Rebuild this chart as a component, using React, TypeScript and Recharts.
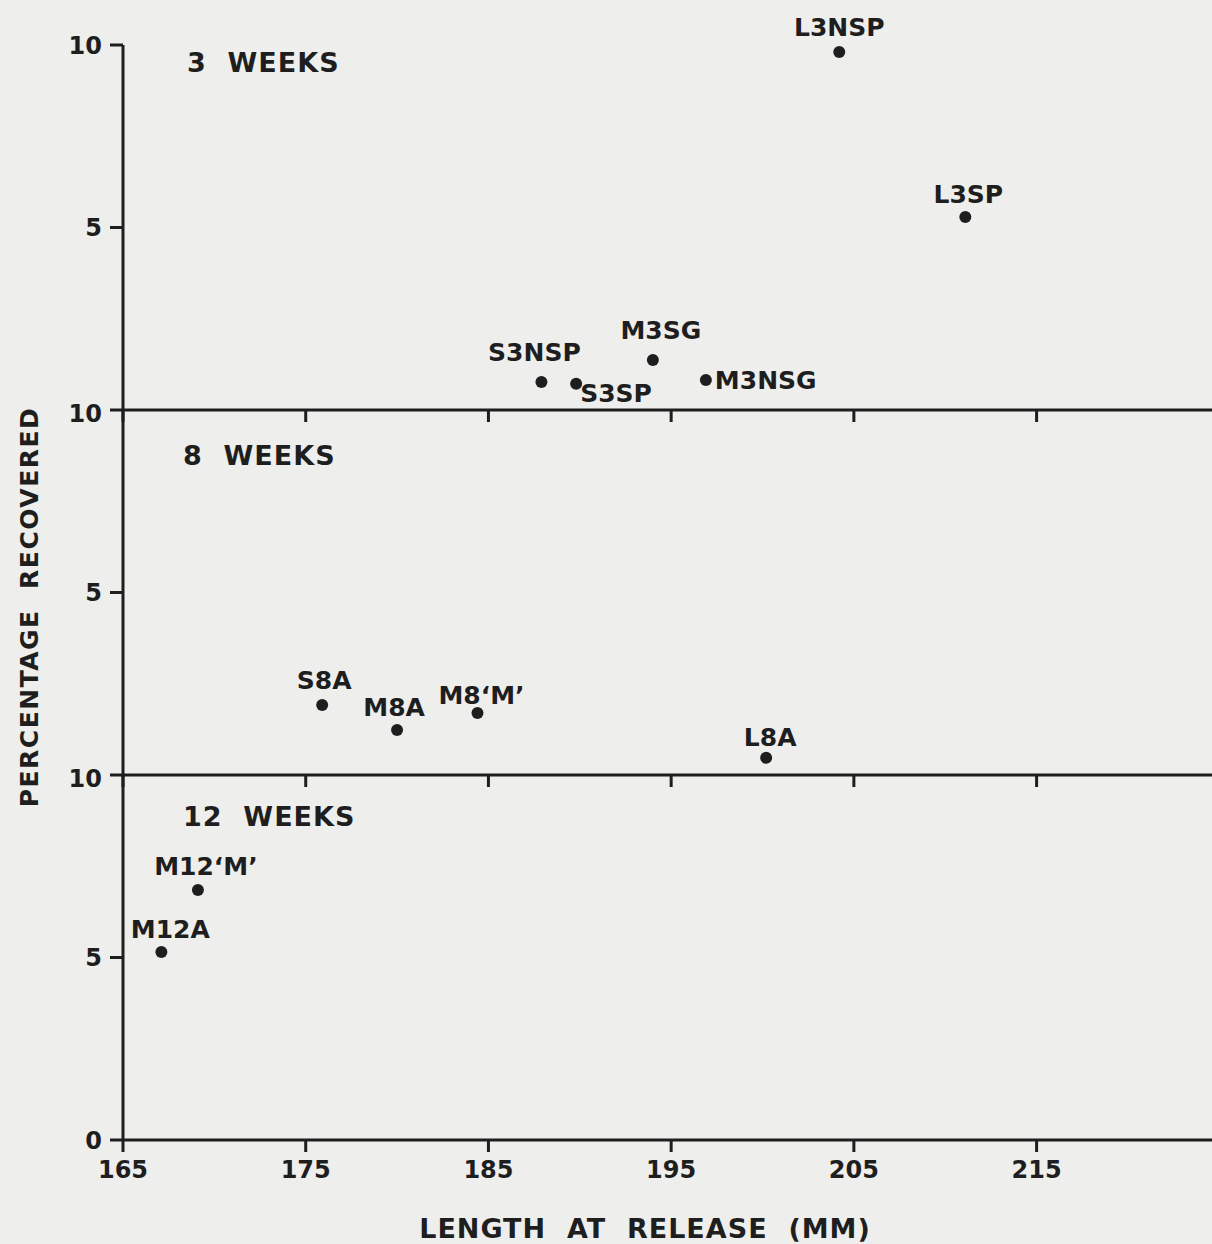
import React from 'react';
import { ScatterChart, Scatter, XAxis, YAxis } from 'recharts';

// x axis (length at release, mm)
const xTicks = [165, 175, 185, 195, 205, 215];

// 3 weeks
const weeks3Names = ['L3NSP', 'L3SP', 'M3SG', 'S3NSP', 'S3SP', 'M3NSG'];
const weeks3Length = [204.2, 211.1, 194.0, 187.9, 189.8, 196.9];
const weeks3Percent = [9.81, 5.29, 1.37, 0.77, 0.72, 0.82];

// 8 weeks
const weeks8Names = ['S8A', 'M8A', 'M8‘M’', 'L8A'];
const weeks8Length = [175.9, 180.0, 184.4, 200.2];
const weeks8Percent = [1.92, 1.23, 1.7, 0.47];

// 12 weeks
const weeks12Names = ['M12‘M’', 'M12A'];
const weeks12Length = [169.1, 167.1];
const weeks12Percent = [6.85, 5.15];

const INK = '#1e1e1e';
const FONT = '"DejaVu Sans", sans-serif';

// where each point's label sits relative to its dot: dx, dy, anchor
const labelPlace: Record<string, [number, number, 'middle' | 'start']> = {
  L3NSP: [0, -24, 'middle'],
  L3SP: [3, -22, 'middle'],
  M3SG: [8, -29, 'middle'],
  S3NSP: [-7, -29, 'middle'],
  S3SP: [4, 10, 'start'],
  M3NSG: [9, 0, 'start'],
  S8A: [2, -24, 'middle'],
  M8A: [-3, -23, 'middle'],
  'M8‘M’': [4, -17, 'middle'],
  L8A: [4, -20, 'middle'],
  'M12‘M’': [8, -23, 'middle'],
  M12A: [9, -23, 'middle'],
};

const toRows = (names: string[], xs: number[], ys: number[]) =>
  names.map((name, i) => ({ name, length: xs[i], pct: ys[i] }));

const Dot = (p: any) => {
  const [dx, dy, anchor] = labelPlace[p.payload.name] || [0, -22, 'middle'];
  return (
    <g>
      <circle cx={p.cx} cy={p.cy} r={6} fill={INK} />
      <text
        x={p.cx + dx}
        y={p.cy + dy}
        textAnchor={anchor}
        dominantBaseline="central"
        fontFamily={FONT}
        fontWeight="bold"
        fontSize={25}
        fill={INK}
      >
        {p.payload.name}
      </text>
    </g>
  );
};

const W = 1212;
const axisTick = { fontFamily: FONT, fontWeight: 'bold', fontSize: 24, fill: INK };
const noLabel = () => <g />;

type PanelProps = {
  top: number;
  height: number;
  marginTop: number;
  xHeight: number;
  yTicks: number[];
  showXLabels: boolean;
  rows: { name: string; length: number; pct: number }[];
};

const Panel = ({ top, height, marginTop, xHeight, yTicks, showXLabels, rows }: PanelProps) => (
  <div style={{ position: 'absolute', left: 0, top }}>
    <ScatterChart width={W} height={height} margin={{ top: marginTop, right: 0, bottom: 0, left: 0 }}>
      <XAxis
        type="number"
        dataKey="length"
        domain={[165, 224.6]}
        ticks={xTicks}
        height={xHeight}
        tickSize={12}
        tickMargin={9}
        stroke={INK}
        strokeWidth={3}
        axisLine={{ stroke: INK, strokeWidth: 3 }}
        tickLine={{ stroke: INK, strokeWidth: 3 }}
        tick={showXLabels ? axisTick : noLabel}
        allowDataOverflow
      />
      <YAxis
        type="number"
        dataKey="pct"
        domain={[0, 10]}
        ticks={yTicks}
        width={123}
        tickSize={13}
        tickMargin={8}
        stroke={INK}
        strokeWidth={3}
        axisLine={{ stroke: INK, strokeWidth: 3 }}
        tickLine={{ stroke: INK, strokeWidth: 3 }}
        tick={axisTick}
      />
      <Scatter data={rows} shape={Dot} isAnimationActive={false} />
    </ScatterChart>
  </div>
);

const panelTitle = (text: string, left: number, top: number) => (
  <div
    style={{
      position: 'absolute',
      left,
      top,
      fontFamily: FONT,
      fontWeight: 'bold',
      fontSize: 27,
      letterSpacing: 1,
      color: INK,
      lineHeight: '30px',
      whiteSpace: 'pre',
    }}
  >
    {text}
  </div>
);

export default function App() {
  return (
    <div
      style={{
        position: 'absolute',
        left: 0,
        top: 0,
        width: W,
        height: 1244,
        background: '#eeeeec',
        overflow: 'hidden',
      }}
    >
      <Panel top={0} height={440} marginTop={45} xHeight={30} yTicks={[5, 10]} showXLabels={false}
        rows={toRows(weeks3Names, weeks3Length, weeks3Percent)} />
      <Panel top={400} height={405} marginTop={10} xHeight={30} yTicks={[5, 10]} showXLabels={false}
        rows={toRows(weeks8Names, weeks8Length, weeks8Percent)} />
      <Panel top={765} height={425} marginTop={10} xHeight={50} yTicks={[0, 5, 10]} showXLabels
        rows={toRows(weeks12Names, weeks12Length, weeks12Percent)} />

      {panelTitle('3  WEEKS', 187, 48)}
      {panelTitle('8  WEEKS', 183, 441)}
      {panelTitle('12  WEEKS', 183, 802)}

      <div
        style={{
          position: 'absolute',
          left: 29,
          top: 607,
          transform: 'translate(-50%, -50%) rotate(-90deg)',
          fontFamily: FONT,
          fontWeight: 'bold',
          fontSize: 25,
          letterSpacing: 1.5,
          color: INK,
          whiteSpace: 'pre',
        }}
      >
        PERCENTAGE  RECOVERED
      </div>
      <div
        style={{
          position: 'absolute',
          left: 645,
          top: 1228,
          transform: 'translate(-50%, -50%)',
          fontFamily: FONT,
          fontWeight: 'bold',
          fontSize: 27,
          letterSpacing: 1,
          color: INK,
          whiteSpace: 'pre',
        }}
      >
        LENGTH  AT  RELEASE  (MM)
      </div>
    </div>
  );
}
